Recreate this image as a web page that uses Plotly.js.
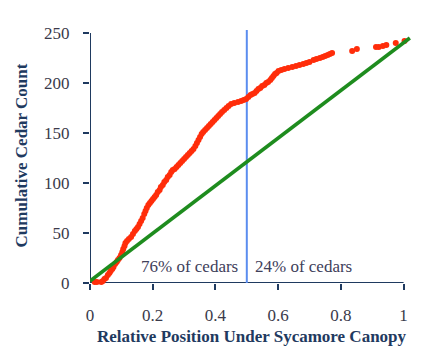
<!DOCTYPE html>
<html>
<head>
<meta charset="utf-8">
<script src="https://cdn.plot.ly/plotly-3.0.1.min.js"></script>
<style>html,body{margin:0;padding:0;background:#fff;}#chart{width:427px;height:350px;}</style>
</head>
<body>
<div id="chart"></div>
<script>
// Observed cedars: relative position (x) and cumulative count (y)
const cedarPos = [0.015,0.022,0.036,0.041,0.046,0.051,0.057,0.062,0.066,0.071,0.075,0.080,0.085,0.089,0.094,0.099,0.103,0.106,0.110,0.113,0.118,0.124,0.131,0.137,0.143,0.148,0.153,0.158,0.163,0.168,0.173,0.177,0.181,0.186,0.191,0.196,0.201,0.206,0.211,0.216,0.222,0.226,0.232,0.237,0.243,0.248,0.254,0.259,0.264,0.270,0.276,0.282,0.288,0.294,0.300,0.306,0.312,0.318,0.324,0.330,0.336,0.341,0.346,0.351,0.356,0.361,0.367,0.373,0.379,0.385,0.391,0.397,0.403,0.409,0.415,0.421,0.428,0.435,0.442,0.450,0.460,0.472,0.482,0.490,0.498,0.505,0.512,0.518,0.525,0.531,0.537,0.543,0.549,0.556,0.562,0.568,0.575,0.580,0.585,0.590,0.595,0.601,0.610,0.620,0.632,0.645,0.657,0.668,0.680,0.690,0.700,0.713,0.722,0.733,0.742,0.750,0.758,0.765,0.772,0.836,0.851,0.912,0.921,0.934,0.945,0.975,1.003];
const cedarCount = [1,1,1,2,4,5,8,10,12,14,16,19,21,23,25,28,31,34,37,40,42,44,46,49,52,54,56,59,62,65,69,72,75,78,80,82,84,86,88,91,93,96,98,101,103,106,108,111,113,114,116,118,120,122,124,126,128,130,132,134,137,140,143,146,149,151,153,155,157,159,161,163,165,167,169,171,173,175,177,179,180,181,182,183,184,186,188,189,190,192,194,195,197,198,200,201,203,205,207,209,210,212,213,214,215,216,217,218,219,220,221,223,224,225,226,227,228,229,230,232,234,236,236,237,238,240,242];
// Expected (uniform) line endpoints
const expectedX = [0, 1.02];
const expectedY = [2, 245];
// Divider at canopy midpoint
const dividerX = [0.5, 0.5];
const dividerY = [0, 253];
const xTicks = [0, 0.2, 0.4, 0.6, 0.8, 1];
const xTickText = ['0', '0.2', '0.4', '0.6', '0.8', '1'];
const yTicks = [0, 50, 100, 150, 200, 250];
const leftLabel = '76% of cedars';
const rightLabel = '24% of cedars';

const navy = '#1F3A60';
const serif = '"Liberation Serif", "Times New Roman", serif';

const traces = [
  {x: dividerX, y: dividerY, mode: 'lines', line: {color: '#5B8DEF', width: 2}, hoverinfo: 'skip'},
  {x: cedarPos, y: cedarCount, mode: 'markers', marker: {color: '#FF2D0A', size: 6}, cliponaxis: false},
  {x: expectedX, y: expectedY, mode: 'lines', line: {color: '#1E8C1E', width: 3.5}}
];

const layout = {
  width: 427, height: 350,
  margin: {l: 90, r: 14, t: 28, b: 67},
  showlegend: false,
  paper_bgcolor: '#fff', plot_bgcolor: '#fff',
  font: {family: serif, color: '#3A3A4A', size: 17},
  xaxis: {
    range: [0, 1.03], showgrid: false, zeroline: false, showline: false,
    tickvals: xTicks, ticktext: xTickText,
    ticks: 'outside', ticklen: 6, tickwidth: 2, tickcolor: navy,
    ticklabelstandoff: 11,
    tickfont: {family: serif, size: 17, color: '#3A3A4A'},
    title: {text: 'Relative Position Under Sycamore Canopy', font: {family: serif, size: 17, color: navy, weight: 'bold'}, standoff: 5}
  },
  yaxis: {
    range: [0, 255], showgrid: false, zeroline: false, showline: false,
    tickvals: yTicks,
    ticks: 'outside', ticklen: 6, tickwidth: 2, tickcolor: navy,
    ticklabelstandoff: 10,
    tickfont: {family: serif, size: 17, color: '#3A3A4A'},
    title: {text: 'Cumulative Cedar Count', font: {family: serif, size: 17, color: navy, weight: 'bold'}, standoff: 12}
  },
  shapes: [
    {type: 'line', xref: 'x', yref: 'y', x0: 0, x1: 1, y0: 0, y1: 0, line: {color: navy, width: 2}, layer: 'below'},
    {type: 'line', xref: 'x', yref: 'y', x0: 0, x1: 0, y0: 0, y1: 250, line: {color: navy, width: 2}, layer: 'below'}
  ],
  annotations: [
    {x: 0.478, y: 17, xref: 'x', yref: 'y', text: leftLabel, showarrow: false, xanchor: 'right', font: {family: serif, size: 17, color: '#40405A'}},
    {x: 0.52, y: 17, xref: 'x', yref: 'y', text: rightLabel, showarrow: false, xanchor: 'left', font: {family: serif, size: 17, color: '#40405A'}}
  ]
};

Plotly.newPlot('chart', traces, layout, {displayModeBar: false, staticPlot: true});
</script>
</body>
</html>
